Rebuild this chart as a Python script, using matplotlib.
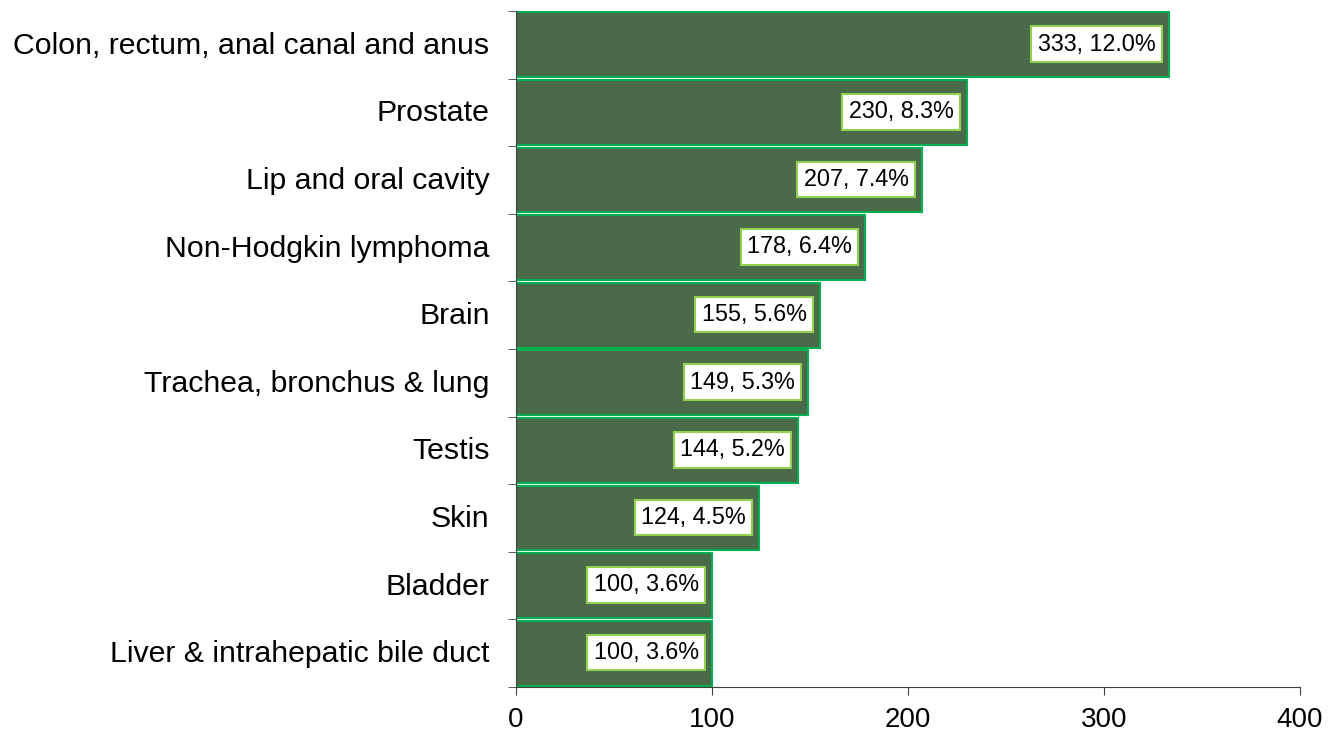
import matplotlib
matplotlib.use("Agg")
import matplotlib.pyplot as plt
import matplotlib.transforms as mtransforms
import numpy as np

categories = ["Colon, rectum, anal canal and anus", "Prostate", "Lip and oral cavity",
              "Non-Hodgkin lymphoma", "Brain", "Trachea, bronchus & lung", "Testis",
              "Skin", "Bladder", "Liver & intrahepatic bile duct"]
counts = [333, 230, 207, 178, 155, 149, 144, 124, 100, 100]
percents = [12.0, 8.3, 7.4, 6.4, 5.6, 5.3, 5.2, 4.5, 3.6, 3.6]
xticks = [0, 100, 200, 300, 400]

plt.rcParams['font.family'] = ['Liberation Sans', 'DejaVu Sans']

fig = plt.figure(figsize=(13.33, 7.31), dpi=100)
ax = fig.add_axes([516/1333, 1-687/731, (1300-516)/1333, (687-11)/731])

y = np.arange(len(categories))
ax.barh(y, counts, height=0.96, color='#4a6a4a', edgecolor='#00b050', linewidth=1.5)
ax.set_ylim(len(categories)-0.5, -0.5)
ax.set_xlim(0, 400)
ax.set_xticks(xticks)
ax.set_xticklabels([str(t) for t in xticks], fontsize=20)
ax.set_yticks(y)
ax.set_yticklabels(categories, fontsize=21.8)
ax.tick_params(axis='y', length=0, pad=19)
ax.set_yticks(np.arange(-0.5, len(categories)), minor=True)
ax.tick_params(axis='y', which='minor', length=6, color='#404040')
ax.tick_params(axis='x', length=6, color='#404040', pad=8.5)
for s in ['top', 'right']:
    ax.spines[s].set_visible(False)
ax.spines['left'].set_color('#404040')
ax.spines['bottom'].set_color('#404040')

shift = mtransforms.ScaledTranslation(0, 2/100, fig.dpi_scale_trans)
for lbl in ax.get_yticklabels():
    lbl.set_transform(lbl.get_transform() + shift)

for yi, c, p in zip(y, counts, percents):
    ax.annotate(f"{c}, {p:.1f}%", xy=(c, yi), xytext=(-9.5, 0.5), textcoords='offset points',
                ha='right', va='center', fontsize=16.8,
                bbox=dict(boxstyle='square,pad=0.27', fc='white', ec='#92d050', lw=1.5))

fig.savefig('out.png', dpi=100)
